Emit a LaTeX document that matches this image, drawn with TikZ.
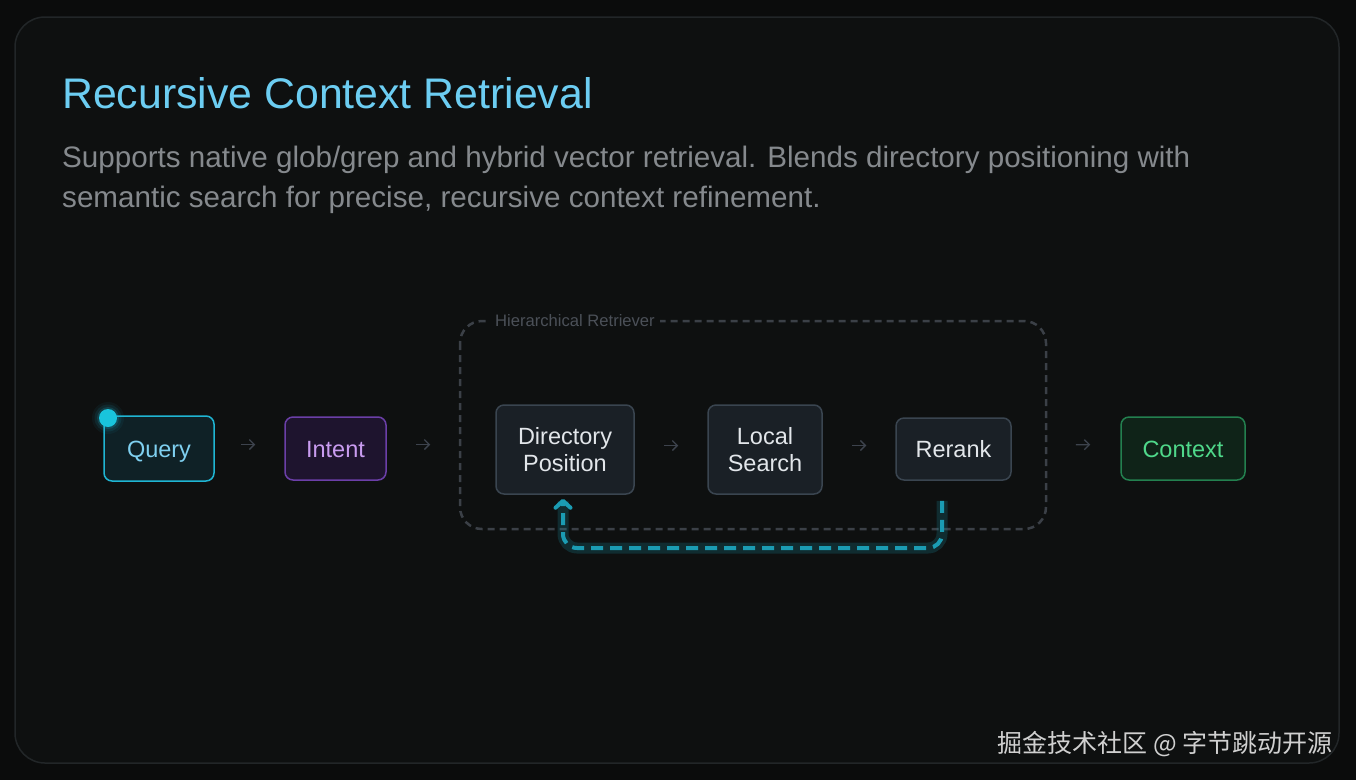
\documentclass[tikz,border=0pt]{standalone}
\usepackage{fontspec}
\setmainfont{Liberation Sans}
\newfontfamily\cjkfont{Noto Sans CJK SC}
\usetikzlibrary{positioning,arrows.meta}

\definecolor{pagebg}{HTML}{0B0C0C}
\definecolor{cardbg}{HTML}{0E1010}
\definecolor{cardline}{HTML}{222628}
\definecolor{titleblue}{HTML}{6CCDF2}
\definecolor{subgray}{HTML}{85898D}
\definecolor{querycol}{HTML}{1FB5D3}
\definecolor{queryfill}{HTML}{0F2126}
\definecolor{querytext}{HTML}{7FD0F0}
\definecolor{intentcol}{HTML}{6B3FA8}
\definecolor{intentfill}{HTML}{1E142E}
\definecolor{intenttext}{HTML}{C99CF0}
\definecolor{stepcol}{HTML}{3A4550}
\definecolor{stepfill}{HTML}{1A2026}
\definecolor{steptext}{HTML}{E2E6EA}
\definecolor{ctxcol}{HTML}{23804F}
\definecolor{ctxfill}{HTML}{0F2318}
\definecolor{ctxtext}{HTML}{4FD88A}
\definecolor{arrowgray}{HTML}{3D434D}
\definecolor{groupline}{HTML}{3B4047}
\definecolor{grouptext}{HTML}{4B5058}
\definecolor{loopteal}{HTML}{1B9CB3}
\definecolor{marktext}{HTML}{D0D0D0}

\tikzset{
  stagebox/.style={draw, rounded corners=8pt, line width=1.5pt, align=center,
    inner sep=0pt, font=\fontsize{23.5}{27}\selectfont},
  oneline/.style={text height=20pt, text depth=3pt},
  stepbox/.style={stagebox, draw=stepcol, fill=stepfill, text=steptext},
  flowarrow/.style={draw=arrowgray, line width=1.3pt,
    -{Straight Barb[length=5pt,width=10pt]}},
  loopline/.style={draw=loopteal, line width=4pt, dash pattern=on 12pt off 7pt,
    rounded corners=14pt},
}

\begin{document}
\begin{tikzpicture}[x=1pt,y=-1pt]
% background and card
\fill[pagebg] (0,0) rectangle (1356,780);
\useasboundingbox (0,0) rectangle (1356,780);
\draw[cardline, fill=cardbg, line width=1.5pt, rounded corners=30pt] (15,17) rectangle (1339,763);

% header
\node[anchor=base west, inner sep=0pt, text=titleblue, font=\fontsize{42.8}{48}\selectfont] (title) at (62,108) {Recursive Context Retrieval};
\node[anchor=base west, inner sep=0pt, text=subgray, font=\fontsize{29.6}{40}\selectfont] (sub1) at (62,167) {Supports native glob/grep and hybrid vector retrieval. Blends directory positioning with};
\node[anchor=base west, inner sep=0pt, text=subgray, font=\fontsize{29.6}{40}\selectfont] (sub2) at (62,207) {semantic search for precise, recursive context refinement.};

% retriever group
\draw[groupline, line width=2.5pt, dash pattern=on 7pt off 5pt, rounded corners=22pt] (460,321) rectangle (1046,529);
\node[fill=cardbg, text=grouptext, inner xsep=5pt, inner ysep=2pt, anchor=west, font=\fontsize{16.6}{18}\selectfont] (grouplbl) at (490,321) {Hierarchical Retriever};

% stages
\node[stagebox, oneline, draw=querycol, fill=queryfill, text=querytext, minimum width=110pt, minimum height=65pt] (query) at (159,448.5) {Query};
\node[stagebox, oneline, draw=intentcol, fill=intentfill, text=intenttext, minimum width=101pt, minimum height=63pt] (intent) at (335.5,448.5) {Intent};
\node[stepbox, minimum width=138pt, minimum height=89pt] (dirpos) at (565,449.5) {Directory\\Position};
\node[stepbox, minimum width=114pt, minimum height=89pt] (local) at (765,449.5) {Local\\Search};
\node[stepbox, oneline, minimum width=115pt, minimum height=62pt] (rerank) at (953.5,449) {Rerank};
\node[stagebox, oneline, draw=ctxcol, fill=ctxfill, text=ctxtext, minimum width=124pt, minimum height=63pt] (context) at (1183,448.5) {Context};

% start marker
\coordinate (qdot) at (108,418);
\foreach \r/\op in {16/0.06, 13.5/0.1, 11/0.18} {
  \fill[querycol, opacity=\op] (qdot) circle (\r pt);
}
\fill[querycol!80!cyan] (qdot) circle (9pt);

% flow arrows
\draw[flowarrow, shorten <=26pt, shorten >=29pt] ([yshift=4pt]query.east) -- ([yshift=4pt]intent.west);
\draw[flowarrow, shorten <=29pt, shorten >=65pt] ([yshift=4pt]intent.east) -- ([yshift=4pt]intent.east -| dirpos.west);
\draw[flowarrow, shorten <=29pt, shorten >=29pt] ([yshift=4pt]dirpos.east) -- ([yshift=4pt]local.west);
\draw[flowarrow, shorten <=29pt, shorten >=29pt] ([yshift=4pt]local.east) -- ([yshift=4pt]local.east -| rerank.west);
\draw[flowarrow, shorten <=64pt, shorten >=30pt] ([yshift=4pt]rerank.east) -- ([yshift=4pt]context.west);

% feedback loop
\coordinate (loopR) at (942,548);
\coordinate (loopL) at (563,548);
\draw[loopteal, opacity=0.2, line width=11pt, rounded corners=14pt, shorten <=20pt, shorten >=6pt]
  (rerank.south -| loopR) -- (loopR) -- (loopL) -- (dirpos.south -| loopL);
\draw[loopline, shorten <=20pt, shorten >=4pt, -{Straight Barb[length=7pt,width=15pt,round]}]
  (rerank.south -| loopR) -- (loopR) -- (loopL) -- (dirpos.south -| loopL);

% watermark
\node[anchor=base east, inner sep=0pt, text=marktext, font=\cjkfont\fontsize{25}{28}\selectfont] (mark) at (1333,752) {掘金技术社区 @ 字节跳动开源};
\end{tikzpicture}
\end{document}
